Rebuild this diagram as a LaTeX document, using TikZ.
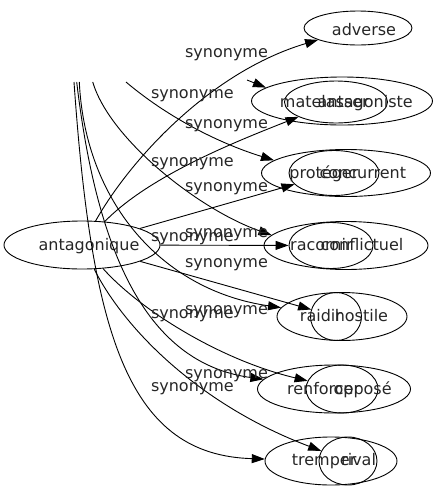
\documentclass[tikz,border=0pt]{standalone}
\usepackage{fontspec}
\setmainfont{DejaVu Sans}
\usetikzlibrary{arrows.meta,shapes.geometric}
\begin{document}
\begin{tikzpicture}[x=1pt,y=-1pt,
  every node/.style={font=\fontsize{16}{19}\selectfont},
  ell/.style={draw, ellipse, inner sep=0pt, line width=0.9pt},
  word/.style={anchor=base, inner sep=0pt, text=black!85},
  lbl/.style={anchor=base, inner sep=0pt, text=black!85},
  edge/.style={line width=0.9pt, -{Triangle[length=13pt,width=9pt]}}
]
\useasboundingbox (0,0) rectangle (437,491);

% ellipses
\node[ell, minimum width=156pt, minimum height=48pt] (antagonique) at (82,245) {};
\node[ell, minimum width=108pt, minimum height=34pt] (adverse) at (358,28) {};
\node[ell, minimum width=181pt, minimum height=48pt] (matelasser) at (342,101) {};
\node[ell, minimum width=103pt, minimum height=42pt] (antagoniste) at (336,102) {};
\node[ell, minimum width=169pt, minimum height=47pt] (proteger) at (346,173) {};
\node[ell, minimum width=90pt, minimum height=45pt] (concurrent) at (334,173) {};
\node[ell, minimum width=164pt, minimum height=48pt] (conflictuel) at (346,245.5) {};
\node[ell, minimum width=84pt, minimum height=46pt] (racornir) at (331,245.5) {};
\node[ell, minimum width=130pt, minimum height=48pt] (raidir) at (342,316.5) {};
\node[ell, minimum width=51pt, minimum height=48pt] (hostile) at (336,316.5) {};
\node[ell, minimum width=153pt, minimum height=48pt] (renforcer) at (334,389) {};
\node[ell, minimum width=72pt, minimum height=48pt] (oppose) at (342,389) {};
\node[ell, minimum width=132pt, minimum height=48pt] (tremper) at (331,461) {};
\node[ell, minimum width=58pt, minimum height=48pt] (rival) at (348,461) {};

% words
\node[word] (antagonique-t) at (89,250) {antagonique};
\node[word] (adverse-t) at (364,35) {adverse};
\node[word] (matelasser-t) at (324.4,107) {matelasser};
\node[word] (antagoniste-t) at (365.2,107) {antagoniste};
\node[word] (proteger-t) at (323.9,178.3) {protéger};
\node[word] (concurrent-t) at (362.9,178.3) {concurrent};
\node[word] (racornir-t) at (321.4,250) {racornir};
\node[word] (conflictuel-t) at (361.9,250) {conflictuel};
\node[word] (raidir-t) at (321,321) {raidir};
\node[word] (hostile-t) at (361.4,321) {hostile};
\node[word] (renforcer-t) at (323.6,394) {renforcer};
\node[word] (oppose-t) at (362.6,394) {opposé};
\node[word] (tremper-t) at (324.1,465) {tremper};
\node[word] (rival-t) at (358.6,465) {rival};

% free ends of the clipped connectors
\coordinate (t1) at (74,82);
\coordinate (t2) at (76.7,82);
\coordinate (t3) at (79.3,82);
\coordinate (t4) at (92.7,82);
\coordinate (t5) at (126,82);
\coordinate (m0) at (247,80);

% connectors
\draw[edge] (antagonique) .. controls (130,160) and (210,72) .. (adverse);
\draw[edge] (m0) -- (matelasser.170);
\draw[edge] (antagonique) .. controls (150,175) and (240,140) .. (antagoniste);
\draw[edge] (t5) .. controls (165,115) and (215,142) .. (proteger.170);
\draw[edge] (antagonique) -- (concurrent);
\draw[edge] (t4) .. controls (110,140) and (200,210) .. (conflictuel.172);
\draw[edge] (antagonique) -- (racornir);
\draw[edge] (t3) .. controls (85,200) and (160,290) .. (raidir);
\draw[edge] (antagonique) -- (hostile);
\draw[edge] (t2) .. controls (100,280) and (160,365) .. (renforcer);
\draw[edge] (antagonique) .. controls (140,310) and (220,360) .. (oppose);
\draw[edge] (t1) .. controls (92,340) and (130,455) .. (tremper);
\draw[edge] (antagonique) .. controls (125,330) and (200,405) .. (rival);

% labels
\node[lbl] (s1) at (226.5,57.3) {synonyme};
\node[lbl] (s2) at (192.4,98) {synonyme};
\node[lbl] (s3) at (226.5,128) {synonyme};
\node[lbl] (s4) at (192.4,166.5) {synonyme};
\node[lbl] (s5) at (226.5,191.5) {synonyme};
\node[lbl] (s6) at (226.5,237.8) {synonyme};
\node[lbl] (s7) at (192.4,241.5) {synonyme};
\node[lbl] (s8) at (226.5,267) {synonyme};
\node[lbl] (s9) at (226.5,314.8) {synonyme};
\node[lbl] (s10) at (192.4,318) {synonyme};
\node[lbl] (s11) at (226.5,378) {synonyme};
\node[lbl] (s12) at (192.4,391.5) {synonyme};
\end{tikzpicture}
\end{document}
